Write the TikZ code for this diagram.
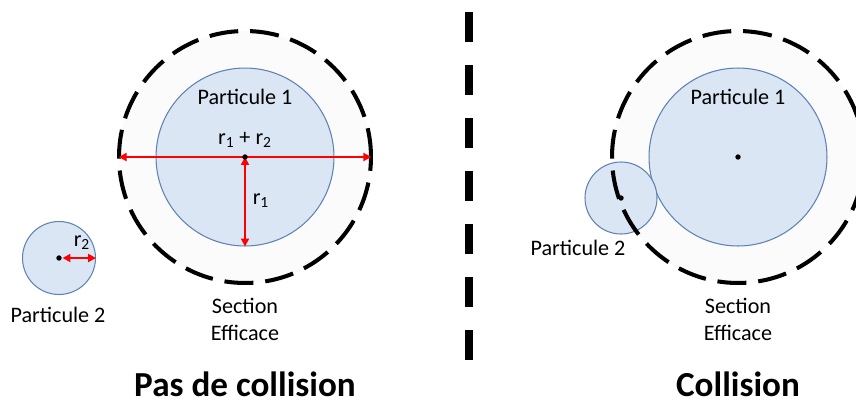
\documentclass[tikz,border=0pt]{standalone}
\usepackage{fontspec}
\setmainfont{Carlito}
\usetikzlibrary{positioning}
\usetikzlibrary{arrows.meta}

\definecolor{partfill}{RGB}{218,230,243}
\definecolor{partdraw}{RGB}{95,130,180}
\definecolor{arrowred}{RGB}{255,0,0}
\definecolor{sectfill}{RGB}{251,251,251}

\begin{document}
\begin{tikzpicture}[x=0.02cm, y=-0.02cm,
		particle/.style={shape=circle, inner sep=0pt, fill=partfill, draw=partdraw, line width=0.6pt},
		section/.style={shape=circle, inner sep=0pt, minimum size=5.04cm, fill=sectfill},
		sectionline/.style={line width=2.3pt, dash pattern=on 16.5pt off 6.8pt},
		radius arrow/.style={arrowred, line width=1.4pt, {Triangle[length=4.5pt,width=4.5pt]}-{Triangle[length=4.5pt,width=4.5pt]}},
		label/.style={font=\fontsize{12.6}{15.4}\selectfont, inner sep=0pt, align=center},
		title/.style={font=\fontsize{20}{22}\selectfont\bfseries, inner sep=0pt, anchor=base, text depth=0pt}]
	\useasboundingbox (0,0) rectangle (856,403);

	% pas de collision
	\node[section] (secA) at (245,157) {};
	\node[particle, minimum size=3.56cm] (p1A) at (245,157) {};
	\node[particle, minimum size=1.46cm] (p2A) at (59,258) {};
	\draw[sectionline] (secA.center) circle (2.52cm);
	\draw[radius arrow] (secA.west) -- (secA.east);
	\draw[radius arrow] (p1A.center) -- (p1A.south);
	\draw[radius arrow, shorten <=2pt] (p2A.center) -- (p2A.east);
	\filldraw (p1A.center) circle (1.3pt);
	\filldraw (p2A.center) circle (1.3pt);
	\node[label] (n1A) at (245,97) {Particule 1};
	\node[label] (sumA) at (245,140) {r\textsubscript{1} + r\textsubscript{2}};
	\node[label] (r1A) at (261,201) {r\textsubscript{1}};
	\node[label] (r2A) at (82,243) {r\textsubscript{2}};
	\node[label] (n2A) at (58,315) {Particule 2};
	\node[label] (txtA) at (245,319) {Section\\Efficace};
	\node[title] (titA) at (245,396) {Pas de collision};

	% separation
	\coordinate (top) at (469,12);
	\coordinate (bot) at (469,360);
	\draw[line width=4.5pt, dash pattern=on 17.1pt off 13.1pt] (top) -- (bot);

	% collision
	\node[section] (secB) at (738,157) {};
	\node[particle, minimum size=3.56cm] (p1B) at (738,157) {};
	\node[particle, minimum size=1.44cm] (p2B) at (621,198) {};
	\filldraw (p1B.center) circle (1.3pt);
	\filldraw (p2B.center) circle (1.3pt);
	\draw[sectionline] (secB.center) circle (2.52cm);
	\node[label] (n1B) at (738,97) {Particule 1};
	\node[label] (n2B) at (578,248) {Particule 2};
	\node[label] (txtB) at (738,319) {Section\\Efficace};
	\node[title] (titB) at (738,396) {Collision};
\end{tikzpicture}
\end{document}
